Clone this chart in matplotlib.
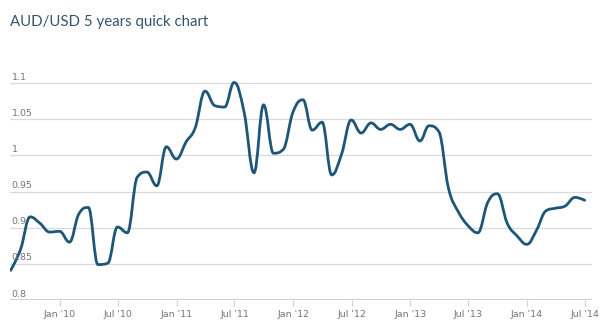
import numpy as np
import pandas as pd
import matplotlib
matplotlib.use("Agg")
import matplotlib.pyplot as plt
import matplotlib.dates as mdates
from matplotlib.path import Path
from matplotlib.patches import PathPatch
from matplotlib.transforms import blended_transform_factory

# Month-end AUD/USD closes, Jul 2009 - Jun 2014
dates = pd.date_range("2009-07-31", periods=60, freq="ME")
rates = [
    0.841, 0.870, 0.915, 0.906, 0.894,
    0.895, 0.880, 0.918, 0.928, 0.849, 0.851, 0.901, 0.893, 0.970, 0.977, 0.958, 1.012,
    0.995, 1.019, 1.038, 1.089, 1.069, 1.067, 1.101, 1.060, 0.976, 1.070, 1.003, 1.008,
    1.060, 1.077, 1.035, 1.046, 0.973, 1.002, 1.049, 1.031, 1.045, 1.036, 1.043, 1.036,
    1.043, 1.020, 1.041, 1.033, 0.955, 0.922, 0.903, 0.893, 0.935, 0.947, 0.906, 0.889,
    0.877, 0.897, 0.923, 0.927, 0.930, 0.942, 0.938,
]
y_ticks = [0.8, 0.85, 0.9, 0.95, 1.0, 1.05, 1.1]
y_tick_labels = ["0.8", "0.85", "0.9", "0.95", "1", "1.05", "1.1"]
x_ticks = ["2010-01-01", "2010-07-01", "2011-01-01", "2011-07-01", "2012-01-01",
           "2012-07-01", "2013-01-01", "2013-07-01", "2014-01-01", "2014-07-01"]
x_tick_labels = ["Jan '10", "Jul '10", "Jan '11", "Jul '11", "Jan '12",
                 "Jul '12", "Jan '13", "Jul '13", "Jan '14", "Jul '14"]

LINE = "#1e5677"
GRID = "#d9d9d9"
AXIS = "#c6d3e0"
LABEL = "#757575"
TITLE = "#34566b"


def spline_path(xs, ys, xscale, yscale):
    """Smooth bezier path through the points (same control-point rule as a
    Highcharts spline series); scales make the geometry isotropic in pixels."""
    px = np.asarray(xs, float) * xscale
    py = np.asarray(ys, float) * yscale
    n = len(px)
    smoothing, denom = 1.5, 2.5
    left = [None] * n
    right = [None] * n
    for i in range(1, n - 1):
        lx, ly = px[i - 1], py[i - 1]
        nx, ny = px[i + 1], py[i + 1]
        x, y = px[i], py[i]
        lcx = (smoothing * x + lx) / denom
        lcy = (smoothing * y + ly) / denom
        rcx = (smoothing * x + nx) / denom
        rcy = (smoothing * y + ny) / denom
        if rcx != lcx:
            corr = (rcy - lcy) * (rcx - x) / (rcx - lcx) + y - rcy
            lcy += corr
            rcy += corr
        if lcy > max(ly, y):
            lcy = max(ly, y); rcy = 2 * y - lcy
        elif lcy < min(ly, y):
            lcy = min(ly, y); rcy = 2 * y - lcy
        if rcy > max(y, ny):
            rcy = max(y, ny); lcy = 2 * y - rcy
        elif rcy < min(y, ny):
            rcy = min(y, ny); lcy = 2 * y - rcy
        left[i] = (lcx, lcy)
        right[i] = (rcx, rcy)
    left[n - 1] = (px[n - 1], py[n - 1])
    right[0] = (px[0], py[0])
    verts = [(px[0], py[0])]
    codes = [Path.MOVETO]
    for i in range(1, n):
        verts += [right[i - 1], left[i], (px[i], py[i])]
        codes += [Path.CURVE4] * 3
    verts = np.array(verts)
    verts[:, 0] /= xscale
    verts[:, 1] /= yscale
    return Path(verts, codes)


fig = plt.figure(figsize=(6.0, 3.22), dpi=100)
fig.patch.set_facecolor("white")
ax = fig.add_axes([10 / 600, 1 - 300 / 322, 582 / 600, 253 / 322])

xnum = mdates.date2num(dates)
xmin = mdates.date2num(pd.Timestamp("2009-07-29"))
xmax = mdates.date2num(pd.Timestamp("2014-07-23"))
ax.set_xlim(xmin, xmax)
ax.set_ylim(0.8, 1.15)

# pixels per data unit, so the smoothing is done in screen proportions
xs_px = 582 / (xmax - xmin)
ys_px = 253 / 0.35
path = spline_path(xnum, rates, xs_px, ys_px)
ax.add_patch(PathPatch(path, facecolor="none", edgecolor=LINE, lw=2.0,
                       capstyle="round", joinstyle="round", zorder=3))

# horizontal grid
for v in y_ticks[1:]:
    ax.axhline(v, color=GRID, lw=0.9, zorder=1)
ax.axhline(0.8, color=AXIS, lw=1.4, zorder=2)

for s in ax.spines.values():
    s.set_visible(False)
ax.set_yticks([])
ax.set_xticks(mdates.date2num(pd.to_datetime(x_ticks)))
ax.set_xticklabels(x_tick_labels, fontsize=6.8, color=LABEL, family="DejaVu Sans")
ax.tick_params(axis="x", length=4, width=0.9, color=AXIS, pad=3, direction="out")

trans = blended_transform_factory(ax.transAxes, ax.transData)
for v, lab in zip(y_ticks, y_tick_labels):
    ax.text(0.003, v + 0.002, lab, transform=trans, ha="left", va="bottom",
            fontsize=6.8, color=LABEL, family="DejaVu Sans")

fig.text(10 / 600, 1 - 26 / 322, "AUD/USD 5 years quick chart", fontsize=10.8,
         color=TITLE, family="Lato", ha="left", va="baseline")

fig.savefig("out.png", dpi=100, facecolor="white")
